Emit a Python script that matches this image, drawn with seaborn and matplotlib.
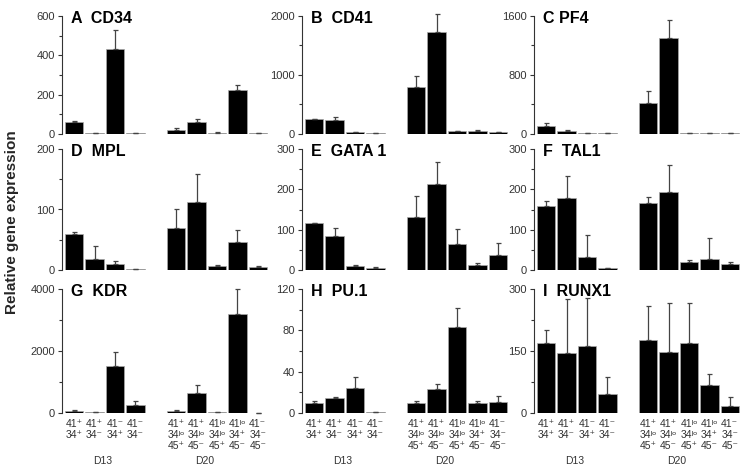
import numpy as np
import pandas as pd
import matplotlib
matplotlib.use('Agg')
import matplotlib.pyplot as plt
import seaborn as sns
from matplotlib.ticker import MultipleLocator
from matplotlib.transforms import blended_transform_factory

# ---------- data ----------
panels = ['A  CD34', 'B  CD41', 'C PF4', 'D  MPL', 'E  GATA 1', 'F  TAL1',
          'G  KDR', 'H  PU.1', 'I  RUNX1']
positions = [0, 1, 2, 3, 5, 6, 7, 8, 9]

means = {
    'A  CD34':   [62, 4, 434, 3, 20, 59, 6, 226, 3],
    'B  CD41':   [246, 235, 28, 10, 790, 1731, 45, 45, 30],
    'C PF4':     [110, 40, 7, 7, 418, 1308, 9, 12, 12],
    'D  MPL':    [60, 19, 10, 1.5, 69, 113, 7, 46, 5],
    'E  GATA 1': [117, 84, 10, 6, 132, 212, 64, 12, 36],
    'F  TAL1':   [158, 179, 32, 4, 167, 194, 19, 28, 15],
    'G  KDR':    [75, 43, 1527, 269, 65, 645, 30, 3194, 15],
    'H  PU.1':   [9.7, 15, 24.6, 0.8, 9.4, 23, 83, 9.4, 10.6],
    'I  RUNX1':  [170, 145, 161, 47, 177, 147, 169, 68, 17],
}
errors = {
    'A  CD34':   [6, 0, 96, 0, 9, 19, 2, 21, 0],
    'B  CD41':   [6, 56, 3, 1, 190, 297, 10, 15, 8],
    'C PF4':     [35, 13, 1, 1, 163, 243, 1, 2, 2],
    'D  MPL':    [2, 20, 5, 0.5, 31, 46, 2, 20, 2],
    'E  GATA 1': [0, 20, 3, 2, 51, 55, 37, 5, 32],
    'F  TAL1':   [13, 53, 54, 2, 13, 67, 7, 51, 4],
    'G  KDR':    [11, 0, 430, 118, 21, 258, 0, 806, 0],
    'H  PU.1':   [1.5, 0.6, 10.6, 0, 2.4, 4.7, 19, 2.4, 5.6],
    'I  RUNX1':  [30, 132, 118, 40, 83, 120, 96, 26, 22],
}
yticks = {
    'A  CD34':   [0, 200, 400, 600],
    'B  CD41':   [0, 1000, 2000],
    'C PF4':     [0, 800, 1600],
    'D  MPL':    [0, 100, 200],
    'E  GATA 1': [0, 100, 200, 300],
    'F  TAL1':   [0, 100, 200, 300],
    'G  KDR':    [0, 2000, 4000],
    'H  PU.1':   [0, 40, 80, 120],
    'I  RUNX1':  [0, 150, 300],
}
P, M, LO = '\u207a', '\u207b', '\u02e1\u1d52'
cell_labels = [
    ['41' + P, '34' + P],
    ['41' + P, '34' + M],
    ['41' + M, '34' + P],
    ['41' + M, '34' + M],
    ['41' + P, '34' + LO, '45' + P],
    ['41' + P, '34' + LO, '45' + M],
    ['41' + LO, '34' + LO, '45' + P],
    ['41' + LO, '34' + P, '45' + M],
    ['41' + M, '34' + M, '45' + M],
]
days = ['D13', 'D20']

# ---------- style ----------
sns.set_theme(style='white')
plt.rcParams['font.family'] = ['Liberation Sans', 'DejaVu Sans']

W, H = 748, 469
fig = plt.figure(figsize=(W / 100, H / 100), dpi=100)

col_left = [62, 302, 534]
row_span = [(16, 134), (149, 270), (289, 413)]
ax_w = 208
line_y = [424, 435, 446]   # pixel rows of the x label lines

for i, name in enumerate(panels):
    r, c = divmod(i, 3)
    top, bot = row_span[r]
    rect = [col_left[c] / W, 1 - bot / H, ax_w / W, (bot - top) / H]
    ax = fig.add_axes(rect)

    df = pd.DataFrame({'pos': positions, 'val': means[name]})
    sns.barplot(data=df, x='pos', y='val', native_scale=True, width=0.9,
                color='black', edgecolor='#aaaaaa', linewidth=0.5,
                saturation=1, ax=ax, errorbar=None)
    ax.errorbar(positions, means[name],
                yerr=[np.zeros(len(positions)), errors[name]],
                fmt='none', ecolor='#444444', elinewidth=0.9,
                capsize=1.8, capthick=0.9, clip_on=False)

    ymax = yticks[name][-1]
    ax.set_xlim(-0.6, 9.6)
    ax.set_ylim(0, ymax)
    ax.set_yticks(yticks[name])
    ax.yaxis.set_minor_locator(MultipleLocator(yticks[name][1] / 2))
    ax.tick_params(axis='y', which='major', length=3, width=0.8,
                   color='#333333', labelsize=8, labelcolor='#333333', pad=2,
                   left=True)
    ax.tick_params(axis='y', which='minor', length=2, width=0.8,
                   color='#333333', left=True)
    ax.set_xlabel('')
    ax.set_ylabel('')
    ax.set_xticks([])
    for s in ['top', 'right', 'bottom']:
        ax.spines[s].set_visible(False)
    ax.spines['left'].set_color('#333333')
    ax.spines['left'].set_linewidth(0.8)

    ax.text(0.045, 1.04, name, transform=ax.transAxes, ha='left', va='top',
            fontsize=11.5, fontweight='bold', color='black')

    if r == 2:
        tr = blended_transform_factory(ax.transData, fig.transFigure)
        for x, lines in zip(positions, cell_labels):
            for k, line in enumerate(lines):
                ax.text(x, 1 - line_y[k] / H, line, transform=tr,
                        ha='center', va='center', fontsize=7.5,
                        color='#333333')
        ax.text(1.4, 1 - 461 / H, days[0], transform=tr, ha='center',
                va='center', fontsize=7.5, color='#333333')
        ax.text(6.4, 1 - 461 / H, days[1], transform=tr, ha='center',
                va='center', fontsize=7.5, color='#333333')

fig.text(12 / W, 1 - 222 / H, 'Relative gene expression', rotation=90,
         ha='center', va='center', fontsize=11, fontweight='bold')

plt.savefig('out.png', dpi=100)
